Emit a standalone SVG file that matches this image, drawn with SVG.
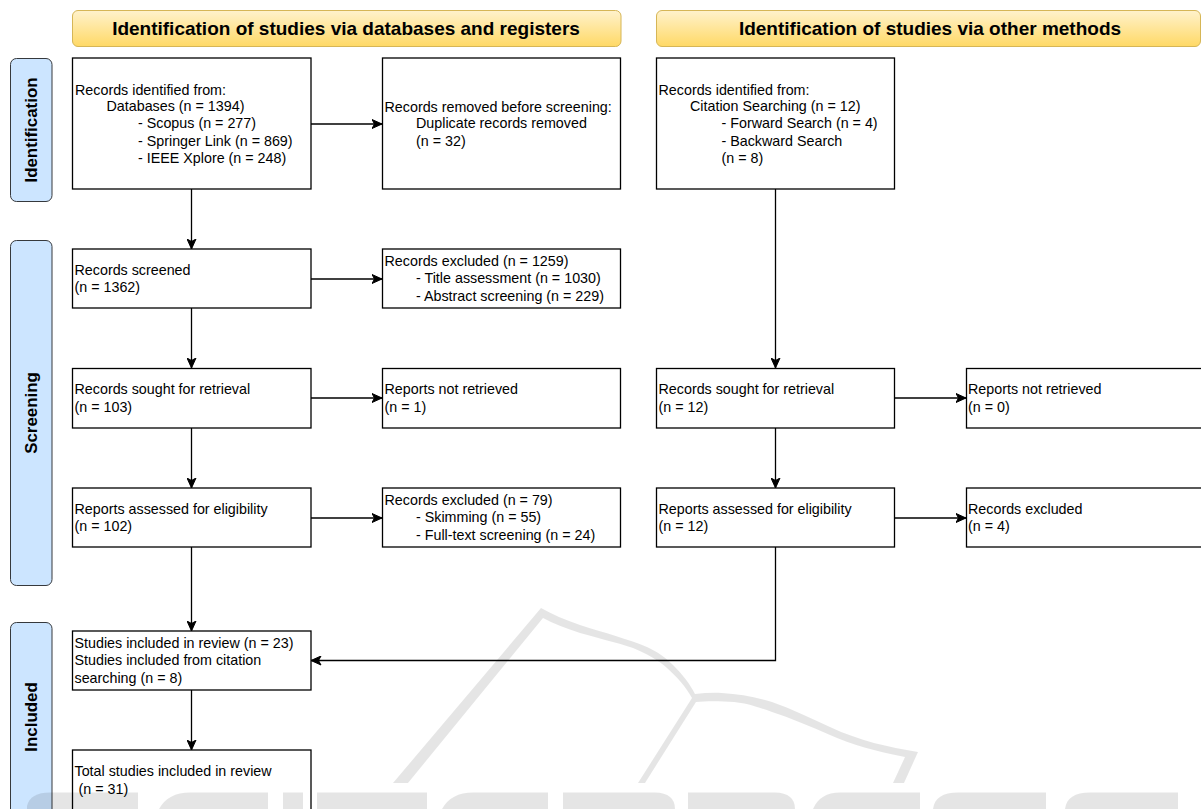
<svg xmlns="http://www.w3.org/2000/svg" width="1201" height="809" viewBox="0 0 1201 809">
<defs>
<linearGradient id="hg" x1="0" y1="0" x2="0" y2="1"><stop offset="0" stop-color="#fff2cc"/><stop offset="1" stop-color="#ffd966"/></linearGradient>
<marker id="ah" markerUnits="userSpaceOnUse" viewBox="0 0 11 10" refX="10.5" refY="5" markerWidth="11" markerHeight="10" orient="auto"><path d="M0.5 0.5L10.5 5L0.5 9.5L3 5Z" fill="#000" stroke="#000" stroke-width="1"/></marker>
</defs>
<style>
text{font-family:"Liberation Sans",Arial,sans-serif;font-size:14.3px;fill:#000;white-space:pre}
.box{fill:#fff;stroke:#000;stroke-width:1.3}
.hdr{fill:url(#hg);stroke:#d6b656;stroke-width:1}
.hdr-t{font-size:19px;font-weight:bold;text-anchor:middle}
.lane{fill:#cce5ff;stroke:#36393d;stroke-width:1}
.lane-t{font-size:16.9px;font-weight:bold;text-anchor:middle}
.wire{fill:none;stroke:#000;stroke-width:1.3;marker-end:url(#ah)}
.wm{fill:#000;fill-opacity:.1;stroke:none}
</style>
<rect width="1201" height="809" fill="#fff"/>
<g id="header-db"><rect class="hdr" x="72.500" y="10.500" width="548.500" height="36" rx="5.500"/><text class="hdr-t" x="346" y="35">Identification of studies via databases and registers</text></g>
<g id="header-other"><rect class="hdr" x="656.500" y="10.500" width="544" height="36" rx="5.500"/><text class="hdr-t" x="930" y="35">Identification of studies via other methods</text></g>
<g id="lane-identification"><rect class="lane" x="10.500" y="58.500" width="41.500" height="143" rx="6"/><text class="lane-t" transform="translate(36.500 130) rotate(-90)">Identification</text></g>
<g id="lane-screening"><rect class="lane" x="10.500" y="240.500" width="41.500" height="345" rx="6"/><text class="lane-t" transform="translate(36.500 413) rotate(-90)">Screening</text></g>
<g id="lane-included"><rect class="lane" x="10.500" y="622.500" width="41.500" height="196" rx="6"/><text class="lane-t" transform="translate(36.500 717) rotate(-90)">Included</text></g>
<g id="connectors">
<path class="wire" d="M311 124H382"/>
<path class="wire" d="M191.500 189V249"/>
<path class="wire" d="M311 279H382"/>
<path class="wire" d="M191.500 308V368"/>
<path class="wire" d="M311 398H382"/>
<path class="wire" d="M191.500 428V488"/>
<path class="wire" d="M311 518H382"/>
<path class="wire" d="M191.500 547V631"/>
<path class="wire" d="M191.500 690V750"/>
<path class="wire" d="M775.500 189V368"/>
<path class="wire" d="M895 398H966"/>
<path class="wire" d="M775.500 428V488"/>
<path class="wire" d="M895 518H966"/>
<path class="wire" d="M775.500 547V660.500H311"/>
</g>
<g id="n1"><rect class="box" x="72.500" y="58" width="238.500" height="131"/><text x="75" y="95">Records identified from:</text><text x="106.500" y="111">Databases (n = 1394)</text><text x="138" y="128">- Scopus (n = 277)</text><text x="138" y="146">- Springer Link (n = 869)</text><text x="138" y="163">- IEEE Xplore (n = 248)</text></g>
<g id="n2"><rect class="box" x="382.500" y="58" width="238" height="131"/><text x="384.500" y="112">Records removed before screening:</text><text x="416" y="128">Duplicate records removed</text><text x="416" y="146">(n = 32)</text></g>
<g id="n3"><rect class="box" x="656.500" y="58" width="238" height="131"/><text x="658.500" y="95">Records identified from:</text><text x="690" y="111">Citation Searching (n = 12)</text><text x="721.500" y="128">- Forward Search (n = 4)</text><text x="721.500" y="146">- Backward Search</text><text x="721.500" y="163">(n = 8)</text></g>
<g id="n4"><rect class="box" x="72.500" y="249" width="238.500" height="59"/><text x="74.500" y="275">Records screened</text><text x="74.500" y="292">(n = 1362)</text></g>
<g id="n5"><rect class="box" x="382.500" y="249" width="238" height="59"/><text x="384.500" y="266">Records excluded (n = 1259)</text><text x="416" y="283">- Title assessment (n = 1030)</text><text x="416" y="301">- Abstract screening (n = 229)</text></g>
<g id="n6"><rect class="box" x="72.500" y="368.500" width="238.500" height="59.500"/><text x="74.500" y="394">Records sought for retrieval</text><text x="74.500" y="412">(n = 103)</text></g>
<g id="n7"><rect class="box" x="382.500" y="368.500" width="238" height="59.500"/><text x="384.500" y="394">Reports not retrieved</text><text x="384.500" y="412">(n = 1)</text></g>
<g id="n8"><rect class="box" x="656.500" y="368.500" width="238" height="59.500"/><text x="658.500" y="394">Records sought for retrieval</text><text x="658.500" y="412">(n = 12)</text></g>
<g id="n9"><rect class="box" x="966.500" y="368.500" width="238" height="59.500"/><text x="968" y="394">Reports not retrieved</text><text x="968" y="412">(n = 0)</text></g>
<g id="n10"><rect class="box" x="72.500" y="488" width="238.500" height="59"/><text x="74.500" y="514">Reports assessed for eligibility</text><text x="74.500" y="531">(n = 102)</text></g>
<g id="n11"><rect class="box" x="382.500" y="488" width="238" height="59"/><text x="384.500" y="505">Records excluded (n = 79)</text><text x="416" y="522">- Skimming (n = 55)</text><text x="416" y="540">- Full-text screening (n = 24)</text></g>
<g id="n12"><rect class="box" x="656.500" y="488" width="238" height="59"/><text x="658.500" y="514">Reports assessed for eligibility</text><text x="658.500" y="531">(n = 12)</text></g>
<g id="n13"><rect class="box" x="966.500" y="488" width="238" height="59"/><text x="968" y="514">Records excluded</text><text x="968" y="531">(n = 4)</text></g>
<g id="n14"><rect class="box" x="72.500" y="631" width="238.500" height="59"/><text x="74.500" y="648">Studies included in review (n = 23)</text><text x="74.500" y="665">Studies included from citation</text><text x="74.500" y="683">searching (n = 8)</text></g>
<g id="n15"><rect class="box" x="72.500" y="750" width="238.500" height="70"/><text x="74.500" y="776">Total studies included in review</text><text x="74.500" y="794"> (n = 31)</text></g>
<g id="watermark">
<path class="wm" d="M393 783L541 608C552 614 565 620 580 625C605 633 628 639 647 647C658 652 666 658 673 665C683 675 690 684 695 694C704 693 713 692.500 722 693C740 694 755 697 772 702C792 709 810 718 830 727C860 741 888 747 918 752L904 783H893L905 757C875 751 852 745 830 735C810 726 790 718 772 712C755 706 745 703 734 702C720 701 706 701 696 702L645 783H638L692 698C686 687 677 677 667 668C658 660 647 654 633 648C615 642 597 638 580 633C566 628 554 624 543 618L408 783Z"/>
<path class="wm" d="M27 809V806Q30 792.500 50 792.500H138V809Z"/>
<path class="wm" d="M159 809Q168 792.500 190 792.500H268V809Z"/>
<path class="wm" d="M283 792.500H303V809H283Z"/>
<path class="wm" d="M317 792.500H427V809H317Z"/>
<path class="wm" d="M442 809Q451 792.500 473 792.500H548V809Z"/>
<path class="wm" d="M563 792.500H655Q675 793 675 809H563Z"/>
<path class="wm" d="M688 792.500H775Q795 793 795 809H688Z"/>
<path class="wm" d="M813 809Q820 792.500 840 792.500H920V809Z"/>
<path class="wm" d="M933 809Q935 792.500 958 792.500H1046V809Z"/>
<path class="wm" d="M1065 809Q1067 792.500 1090 792.500H1178V809Z"/>
</g>
</svg>
